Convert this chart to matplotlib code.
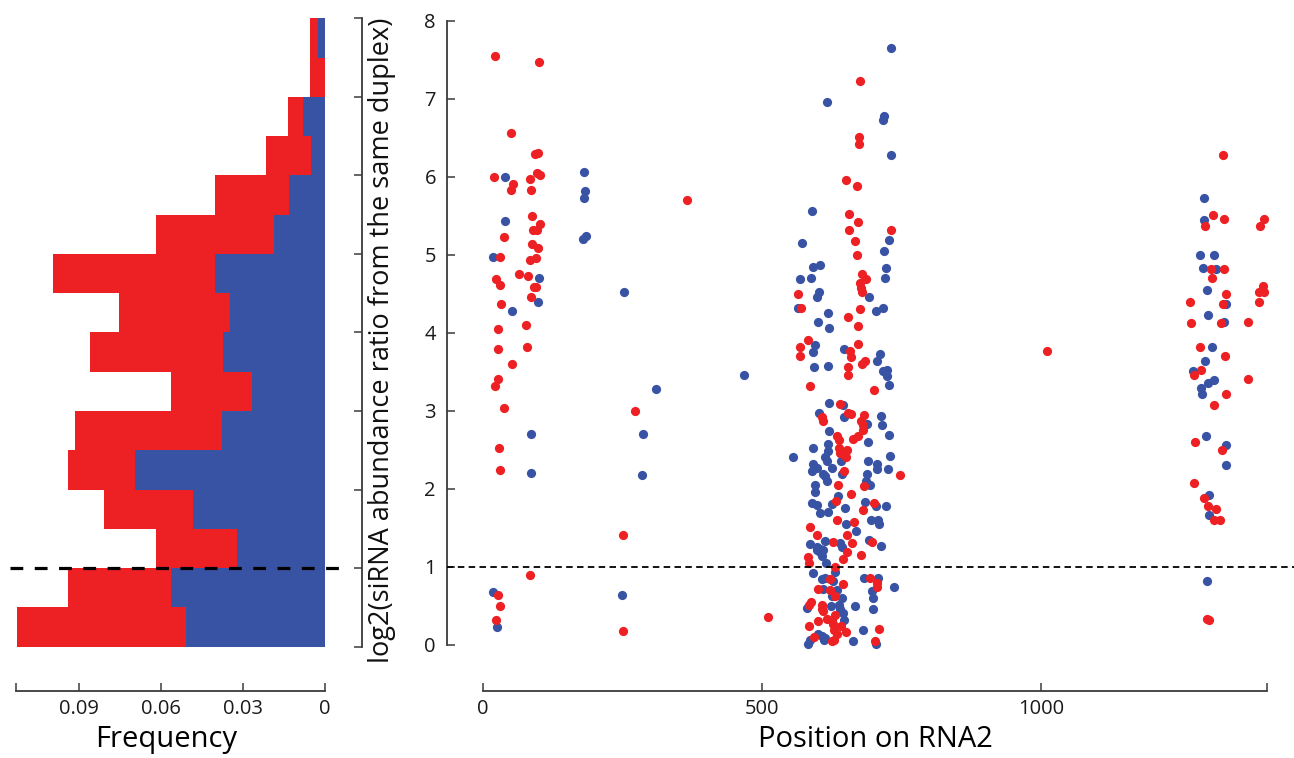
import numpy as np
import matplotlib.pyplot as plt

plt.rcParams['font.family'] = ['Open Sans', 'DejaVu Sans']

RED = '#ED2024'
BLUE = '#3953A4'
SPINE = '#3a3a3a'

# histogram of log2 ratios, bins of 0.5 from 0 to 8
bin_edges = np.arange(0, 8.0, 0.5)
freq_all = [0.1128, 0.0941, 0.0619, 0.0810, 0.0941, 0.0916, 0.0564, 0.0861,
            0.0755, 0.0996, 0.0619, 0.0403, 0.0216, 0.0136, 0.0055, 0.0055]
freq_blue = [0.0509, 0.0564, 0.0322, 0.0484, 0.0696, 0.0377, 0.0267, 0.0374,
             0.0348, 0.0403, 0.0187, 0.0132, 0.0051, 0.0081, 0.0000, 0.0026]

# (position on RNA2, log2 ratio)
blue_points = [
    (39.4, 5.99), (181.6, 6.06), (182.8, 5.81), (181, 5.72), (40, 5.43), (178.6, 5.20),
    (184, 5.24), (17.9, 4.97), (101, 4.70), (98.6, 4.39), (52, 4.27), (252, 4.52),
    (310, 3.27), (467.7, 3.46), (86, 2.70), (286.7, 2.70), (86.6, 2.20), (285.5, 2.17),
    (17.9, 0.67), (25.6, 0.22), (249.6, 0.64),
    (731, 7.65), (617, 6.96), (719, 6.78), (716, 6.73), (731.7, 6.28), (589.6, 5.56),
    (726.5, 5.19), (571.7, 5.15), (718.6, 5.04), (592, 4.84), (604, 4.86), (721.6, 4.83),
    (720.4, 4.70), (568, 4.68), (588.4, 4.70), (602.7, 4.52), (598, 4.46), (691.7, 4.46),
    (565, 4.32), (716, 4.32), (704, 4.27), (618.8, 4.25), (601, 4.13), (620, 4.06),
    (595, 3.84), (592, 3.75), (647, 3.79), (711.5, 3.73), (705.5, 3.63), (593.7, 3.56),
    (617.7, 3.57), (717.5, 3.51), (724.6, 3.52), (723.5, 3.44), (728, 3.33), (620.6, 3.10),
    (644.6, 3.07), (601.6, 2.97), (647, 2.92), (688.7, 2.83), (713.3, 2.93), (714.5, 2.81),
    (620.6, 2.74), (727.6, 2.68), (689.4, 2.59), (618.8, 2.57), (592, 2.52), (618.8, 2.48),
    (556, 2.41), (729.4, 2.42), (613, 2.41), (591, 2.32), (616, 2.35), (641.6, 2.35),
    (690.5, 2.35), (706.6, 2.32), (589, 2.23), (598, 2.26), (610, 2.19), (612, 2.16),
    (625, 2.26), (643, 2.19), (706.6, 2.25), (725, 2.25), (688.7, 2.19), (616, 2.10),
    (595, 2.05), (595.5, 1.95), (685.8, 2.09), (693.5, 2.05), (635.7, 1.90), (589, 1.81),
    (598, 1.79), (625, 1.80), (649, 1.75), (684.6, 1.83), (704, 1.78), (722, 1.78),
    (604, 1.69), (617.7, 1.70), (650, 1.55), (695.3, 1.60), (708.4, 1.59), (710, 1.55),
    (668.5, 1.46), (613, 1.33), (640, 1.30), (643, 1.25), (691.7, 1.34), (712.7, 1.26),
    (586, 1.29), (598, 1.25), (604, 1.22), (604, 1.18), (610, 1.21), (598, 1.21),
    (607, 1.14), (614.7, 1.05), (630.8, 0.93), (591, 0.92), (607, 0.84), (613, 0.85),
    (683.3, 0.85), (708.4, 0.85), (736.6, 0.74), (627.8, 0.81), (634, 0.70), (697.7, 0.68),
    (610, 0.71), (642.7, 0.60), (625, 0.62), (698.4, 0.59), (581, 0.47), (623.7, 0.49),
    (637, 0.51), (640, 0.45), (666.7, 0.49), (699.6, 0.46), (645.7, 0.41), (647, 0.31),
    (681.5, 0.19), (601, 0.13), (607, 0.11), (613, 0.08), (586, 0.06), (583, 0.01),
    (663.6, 0.04), (704, 0.01), (611, 0.06),
    (1291, 5.73), (1292, 5.44), (1284, 5.00), (1309, 5.00), (1290, 4.83), (1314, 4.81),
    (1297.5, 4.55), (1331, 4.37), (1298.7, 4.23), (1327, 4.13), (1306, 3.81), (1293, 3.64),
    (1272, 3.51), (1310, 3.39), (1299.6, 3.35), (1287, 3.29), (1289, 3.21), (1296, 2.67),
    (1332, 2.56), (1331, 2.30), (1300.5, 1.92), (1301.6, 1.66), (1297.5, 0.81),
]

red_points = [
    (21.5, 7.55), (99.8, 7.47), (50, 6.56), (93, 6.29), (99, 6.30), (19.7, 6.00),
    (53, 5.91), (50.8, 5.83), (84.2, 5.97), (96, 6.05), (101.6, 6.02), (86, 5.83),
    (365.6, 5.70), (37, 5.23), (87, 5.49), (101.6, 5.39), (90, 5.31), (96.8, 5.31),
    (88.4, 5.13), (98, 5.08), (30.5, 4.97), (84.2, 4.93), (95.6, 4.95), (22.7, 4.68),
    (31, 4.61), (64.5, 4.75), (80, 4.72), (91, 4.58), (95, 4.58), (85.4, 4.46),
    (32.9, 4.37), (26.3, 4.04), (77, 4.09), (26.9, 3.79), (78.3, 3.81), (51.4, 3.59),
    (27, 3.41), (22, 3.31), (38.2, 3.03), (273, 3.00), (28, 2.52), (29.9, 2.24),
    (250.9, 1.40), (84.8, 0.89), (26.3, 0.64), (31, 0.49), (23.8, 0.32), (251.4, 0.17),
    (510, 0.35), (1010, 3.76),
    (675.6, 7.23), (674, 6.51), (674.5, 6.42), (650.5, 5.95), (670, 5.88), (656.5, 5.52),
    (671.5, 5.42), (655.4, 5.32), (731.7, 5.32), (666.7, 5.17), (669.7, 4.99), (679.8, 4.75),
    (685.8, 4.68), (675.6, 4.63), (677, 4.57), (678.7, 4.52), (565, 4.50), (570, 4.32),
    (676, 4.30), (653.6, 4.20), (672.6, 4.08), (582, 3.91), (568, 3.81), (672.6, 3.85),
    (657.7, 3.76), (659.5, 3.68), (568, 3.70), (684.6, 3.63), (678.7, 3.59), (654.7, 3.56),
    (653.6, 3.46), (585, 3.32), (700.7, 3.26), (640, 3.08), (654.7, 2.97), (659.5, 2.95),
    (607, 2.92), (610, 2.87), (683.3, 2.94), (677, 2.87), (681.5, 2.82), (680.5, 2.75),
    (635, 2.67), (637, 2.62), (662.5, 2.64), (671, 2.67), (637, 2.52), (640, 2.45),
    (652, 2.50), (650, 2.40), (647, 2.22), (746.7, 2.17), (636.7, 2.04), (682.8, 2.03),
    (659.5, 1.93), (632.6, 1.84), (701, 1.81), (680.5, 1.73), (635, 1.59), (665.5, 1.57),
    (586, 1.51), (598, 1.41), (652, 1.40), (626.7, 1.32), (660.8, 1.30), (697, 1.32),
    (652, 1.18), (677.4, 1.15), (645.7, 1.09), (582, 1.12), (583.7, 1.05), (630.8, 1.00),
    (622, 0.84), (693.5, 0.85), (705.5, 0.79), (706.6, 0.74), (644.6, 0.77), (601, 0.71),
    (622, 0.70), (630.8, 0.62), (587, 0.54), (584.8, 0.51), (608, 0.51), (610, 0.43),
    (607, 0.45), (630.8, 0.38), (616, 0.33), (625, 0.32), (601, 0.30), (584.8, 0.24),
    (626.7, 0.26), (628, 0.19), (641, 0.24), (709.7, 0.20), (650.5, 0.16), (634, 0.14),
    (593, 0.10), (628, 0.06), (625.4, 0.04), (702.5, 0.04),
    (1325, 6.28), (1307.7, 5.51), (1328, 5.46), (1400, 5.46), (1292.7, 5.36), (1392.5, 5.36),
    (1305, 4.81), (1327, 4.81), (1305.3, 4.70), (1397, 4.59), (1391, 4.52), (1400, 4.52),
    (1332, 4.49), (1267, 4.39), (1325.6, 4.36), (1390, 4.39), (1269, 4.12), (1322, 4.12),
    (1371, 4.13), (1285, 3.81), (1329, 3.70), (1286, 3.52), (1273, 3.46), (1370, 3.41),
    (1331, 3.21), (1310, 3.07), (1276, 2.59), (1324, 2.50), (1274, 2.07), (1291, 1.88),
    (1299, 1.77), (1312.7, 1.74), (1310, 1.59), (1321, 1.59), (1297.5, 0.33), (1301.6, 0.31),
]

threshold = 1.0
rna_length = 1405

fig = plt.figure(figsize=(12.94, 7.58), dpi=100)

W, H = 1294.0, 758.0
ax_h = fig.add_axes([10 / W, 1 - 691 / H, 352 / W, (691 - 18.3) / H])
ax_s = fig.add_axes([447 / W, 1 - 691 / H, 847 / W, (691 - 20.5) / H])


def style_axis(ax):
    for side in ('top', 'right', 'left', 'bottom'):
        ax.spines[side].set_color(SPINE)
        ax.spines[side].set_linewidth(1.3)
    ax.tick_params(direction='in', length=6, width=1.1, colors=SPINE,
                   labelcolor='#1a1a1a', labelsize=14.5)


# ---- left: frequency histogram (x axis reversed) ----
ax_h.barh(bin_edges, freq_all, height=0.5, align='edge', color=RED, linewidth=0)
ax_h.barh(bin_edges, freq_blue, height=0.5, align='edge', color=BLUE, linewidth=0)
ax_h.axhline(threshold, xmin=0.0, xmax=0.94, color='black', lw=2.3, dashes=(4, 3.6))

ax_h.set_xlim(0.1153, -0.0135)
ax_h.set_ylim(-0.564, 8)
style_axis(ax_h)
ax_h.spines['top'].set_visible(False)
ax_h.spines['left'].set_visible(False)
ax_h.spines['bottom'].set_bounds(0, 0.113)
ax_h.spines['right'].set_bounds(0, 8)
ax_h.yaxis.tick_right()
ax_h.set_yticks(range(9))
ax_h.set_yticklabels([])
ax_h.set_xticks([0.113, 0.09, 0.06, 0.03, 0])
ax_h.set_xticklabels(['', '0.09', '0.06', '0.03', '0'])
ax_h.tick_params(axis='x', pad=6)
ax_h.set_xlabel('Frequency', fontsize=21)
ax_h.xaxis.set_label_coords((166 - 10) / 352, -0.05)

# ---- right: ratios along RNA2 ----
bx, by = np.array(blue_points).T
rx, ry = np.array(red_points).T
ax_s.scatter(bx, by, s=44, color=BLUE, linewidths=0, zorder=2)
ax_s.scatter(rx, ry, s=44, color=RED, linewidths=0, zorder=3)
ax_s.axhline(threshold, color='black', lw=1.3, dashes=(3.6, 2.4), zorder=4)

ax_s.set_xlim(-64.5, 1453)
ax_s.set_ylim(-0.596, 8)
style_axis(ax_s)
ax_s.spines['top'].set_visible(False)
ax_s.spines['right'].set_visible(False)
ax_s.spines['left'].set_bounds(0, 8)
ax_s.spines['bottom'].set_bounds(0, rna_length)
ax_s.set_yticks(range(9))
ax_s.set_xticks([0, 500, 1000, rna_length])
ax_s.set_xticklabels(['0', '500', '1000', ''])
ax_s.tick_params(axis='x', pad=6)
ax_s.tick_params(axis='y', pad=8)
ax_s.set_xlabel('Position on RNA2', fontsize=21)
ax_s.xaxis.set_label_coords((875 - 447) / 847, -0.05)

fig.text(382 / W, 1 - 340 / H, 'log2(siRNA abundance ratio from the same duplex)',
         rotation=90, ha='center', va='center', fontsize=19.5, color='#111111')

fig.savefig('out.png', dpi=100)
plt.close()
